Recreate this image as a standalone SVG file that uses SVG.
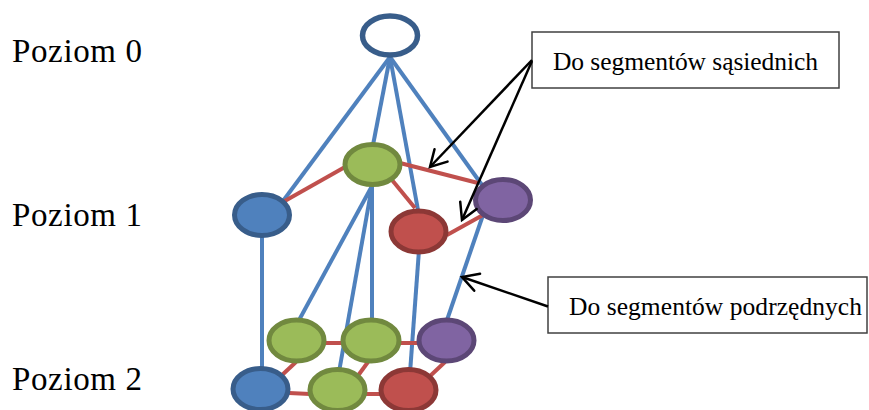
<svg xmlns="http://www.w3.org/2000/svg" width="869" height="410" viewBox="0 0 869 410">
  <style>
    .lvl { font-family: "Liberation Serif", "DejaVu Serif", serif; font-size: 33px; fill: #000; }
    .lbl { font-family: "Liberation Serif", "DejaVu Serif", serif; font-size: 25.5px; fill: #000; }
    .box { fill: #fff; stroke: #404040; stroke-width: 1.5; }
    .up { stroke: #4F81BD; stroke-width: 4; fill: none; }
    .nb { stroke: #C0504D; stroke-width: 4; fill: none; }
    .ptr { stroke: #000; stroke-width: 2.5; fill: none; marker-end: url(#open); }
    .n { stroke-width: 5; }
    .root { fill: #fff; stroke: #385D8A; stroke-width: 5.5; }
    .blue { fill: #4F81BD; stroke: #385D8A; }
    .green { fill: #9BBB59; stroke: #71893F; }
    .red { fill: #C0504D; stroke: #8C3836; }
    .purple { fill: #8064A2; stroke: #5C4776; }
  </style>
  <defs>
    <marker id="open" markerUnits="userSpaceOnUse" markerWidth="22" markerHeight="22" refX="18" refY="10" orient="auto" overflow="visible">
      <path d="M2,1 L18,10 L2,19" fill="none" stroke="#000" stroke-width="2.5" stroke-linecap="round" stroke-linejoin="miter"/>
    </marker>
  </defs>

  <rect width="869" height="410" fill="#fff"/>

  <!-- level captions -->
  <text class="lvl" x="12" y="62" textLength="130" lengthAdjust="spacing">Poziom 0</text>
  <text class="lvl" x="12" y="226" textLength="130" lengthAdjust="spacing">Poziom 1</text>
  <text class="lvl" x="12" y="390" textLength="130" lengthAdjust="spacing">Poziom 2</text>

  <!-- connectors -->
  <g id="connectors">
    <!-- parent links, level 0 to level 1 -->
    <line class="up" x1="390" y1="57" x2="283" y2="201"/>
    <line class="up" x1="390" y1="57" x2="373" y2="145"/>
    <line class="up" x1="390" y1="57" x2="418" y2="210"/>
    <line class="up" x1="390" y1="57" x2="482" y2="185"/>
    <!-- parent links, level 1 to level 2 -->
    <line class="up" x1="262" y1="236" x2="262" y2="369"/>
    <line class="up" x1="372" y1="186" x2="298" y2="322"/>
    <line class="up" x1="372" y1="186" x2="339" y2="372"/>
    <line class="up" x1="372" y1="186" x2="372" y2="322"/>
    <line class="up" x1="419" y1="250" x2="410" y2="373"/>
    <line class="up" x1="483" y1="215" x2="447" y2="320"/>
    <!-- neighbour links, level 1 -->
    <line class="nb" x1="283" y1="202" x2="345" y2="167"/>
    <line class="nb" x1="400" y1="163" x2="478" y2="183"/>
    <line class="nb" x1="392" y1="180" x2="415" y2="208"/>
    <line class="nb" x1="447" y1="235" x2="483" y2="215"/>
    <!-- neighbour links, level 2 -->
    <line class="nb" x1="325" y1="343" x2="343" y2="343"/>
    <line class="nb" x1="400" y1="343" x2="419" y2="343"/>
    <line class="nb" x1="296" y1="362" x2="281" y2="376"/>
    <line class="nb" x1="368" y1="362" x2="357" y2="377"/>
    <line class="nb" x1="445" y1="362" x2="429" y2="377"/>
    <line class="nb" x1="289" y1="393" x2="310" y2="394"/>
    <line class="nb" x1="366" y1="394" x2="381" y2="394"/>
  </g>

  <!-- nodes -->
  <g id="root"><ellipse class="root" cx="390" cy="35.5" rx="27.5" ry="19.5"/></g>

  <g id="l1-blue"><ellipse class="n blue" cx="262" cy="215" rx="27.5" ry="20.5"/></g>
  <g id="l1-green"><ellipse class="n green" cx="372.5" cy="164.5" rx="27.5" ry="20"/></g>
  <g id="l1-red"><ellipse class="n red" cx="418.5" cy="231.5" rx="27.5" ry="20.5"/></g>
  <g id="l1-purple"><ellipse class="n purple" cx="503" cy="200" rx="27.5" ry="20.5"/></g>

  <g id="l2-green-a"><ellipse class="n green" cx="296.5" cy="340.5" rx="27.5" ry="20.5"/></g>
  <g id="l2-green-b"><ellipse class="n green" cx="371" cy="340.5" rx="28" ry="20.5"/></g>
  <g id="l2-purple"><ellipse class="n purple" cx="446.5" cy="340.5" rx="27.5" ry="20.5"/></g>
  <g id="l2-blue"><ellipse class="n blue" cx="260.5" cy="389" rx="27.5" ry="20.5"/></g>
  <g id="l2-green-c"><ellipse class="n green" cx="337.5" cy="390" rx="27.5" ry="20.5"/></g>
  <g id="l2-red"><ellipse class="n red" cx="408.5" cy="390" rx="27.5" ry="20.5"/></g>

  <!-- callouts -->
  <g id="callout-neighbours">
    <rect class="box" x="532" y="32" width="307" height="56"/>
    <text class="lbl" x="553" y="70" textLength="265" lengthAdjust="spacing">Do segmentów sąsiednich</text>
  </g>
  <g id="callout-children">
    <rect class="box" x="548" y="277" width="319" height="56"/>
    <text class="lbl" x="569" y="315" textLength="293" lengthAdjust="spacing">Do segmentów podrzędnych</text>
  </g>

  <g id="pointers">
    <line class="ptr" x1="532" y1="60" x2="430" y2="167"/>
    <line class="ptr" x1="532" y1="61" x2="462" y2="220"/>
    <line class="ptr" x1="548" y1="306.5" x2="462" y2="277"/>
  </g>
</svg>
